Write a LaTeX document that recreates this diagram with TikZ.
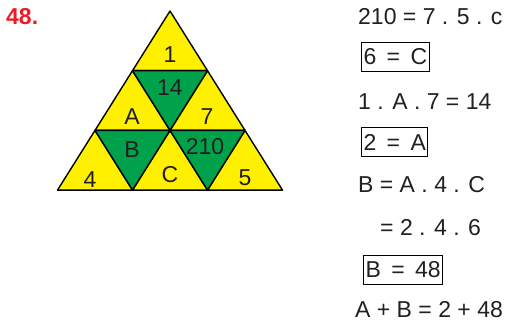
\documentclass[tikz,border=0pt]{standalone}
\usepackage{fontspec}
\setmainfont{Liberation Sans}
\usetikzlibrary{positioning}
\definecolor{triyellow}{RGB}{255,240,0}
\definecolor{trigreen}{RGB}{0,161,75}
\definecolor{numred}{RGB}{237,28,36}
\definecolor{inkgray}{RGB}{35,31,32}
\newcommand{\eqgap}{\hspace{0.45em}=\hspace{0.45em}}

\begin{document}
\begin{tikzpicture}[
  x=1pt, y=-1pt,
  font=\fontsize{23}{25}\selectfont,
  text=inkgray,
  up/.style={fill=triyellow, draw=black, line width=1.4pt, line join=round},
  down/.style={fill=trigreen, draw=black, line width=1.4pt, line join=round},
  eqn/.style={anchor=west, inner sep=0pt},
  answer/.style={draw=black, line width=1.2pt, anchor=west, inner xsep=2pt,
    inner ysep=0pt, minimum height=29pt},
]
\useasboundingbox (0,0) rectangle (506,323);

%% grid points p<row><col>
\foreach \k in {0,...,3}{
  \foreach \j in {0,...,\k}{
    \coordinate (p\k\j) at ({170-37.5*\k+75*\j},{11+59.7*\k});
  }
}

%% yellow triangles
\foreach \k/\l in {0/1,1/2,2/3}{
  \foreach \j in {0,...,\k}{
    \pgfmathtruncatemacro\m{\j+1}
    \draw[up] (p\k\j) -- (p\l\j) -- (p\l\m) -- cycle;
  }
}
%% green triangles
\foreach \k/\l in {1/2,2/3}{
  \foreach \j in {1,...,\k}{
    \pgfmathtruncatemacro\i{\j-1}
    \draw[down] (p\k\i) -- (p\k\j) -- (p\l\j) -- cycle;
  }
}

\node (one) at (170,55) {1};
\node (fourteen) at (170,88) {14};
\node (cellA) at (132,117) {A};
\node (seven) at (207,117) {7};
\node (cellB) at (132,150) {B};
\node (twoten) at (205,147) {210};
\node (four) at (90,180) {4};
\node (cellC) at (170,175) {C};
\node (five) at (245,178) {5};

\node[font=\fontsize{23}{25}\selectfont\bfseries, text=numred, anchor=west,
  inner sep=0pt] (qnum) at (6,17) {48.};

%% solution
\node[eqn] (s1) at (358,17) {210 = 7 . 5 . c};
\node[answer] (s2) at (361,57) {6\eqgap C};
\node[eqn] (s3) at (358,102) {1 . A . 7 = 14};
\node[answer] (s4) at (361,142) {2\eqgap A};
\node[eqn] (s5) at (358,185) {B = A . 4 . C};
\node[eqn] (s6) at (380,228) {= 2 . 4 . 6};
\node[answer] (s7) at (363,270) {B\eqgap 48};
\node[eqn] (s8) at (355,310) {A + B = 2 + 48};

\end{tikzpicture}
\end{document}
